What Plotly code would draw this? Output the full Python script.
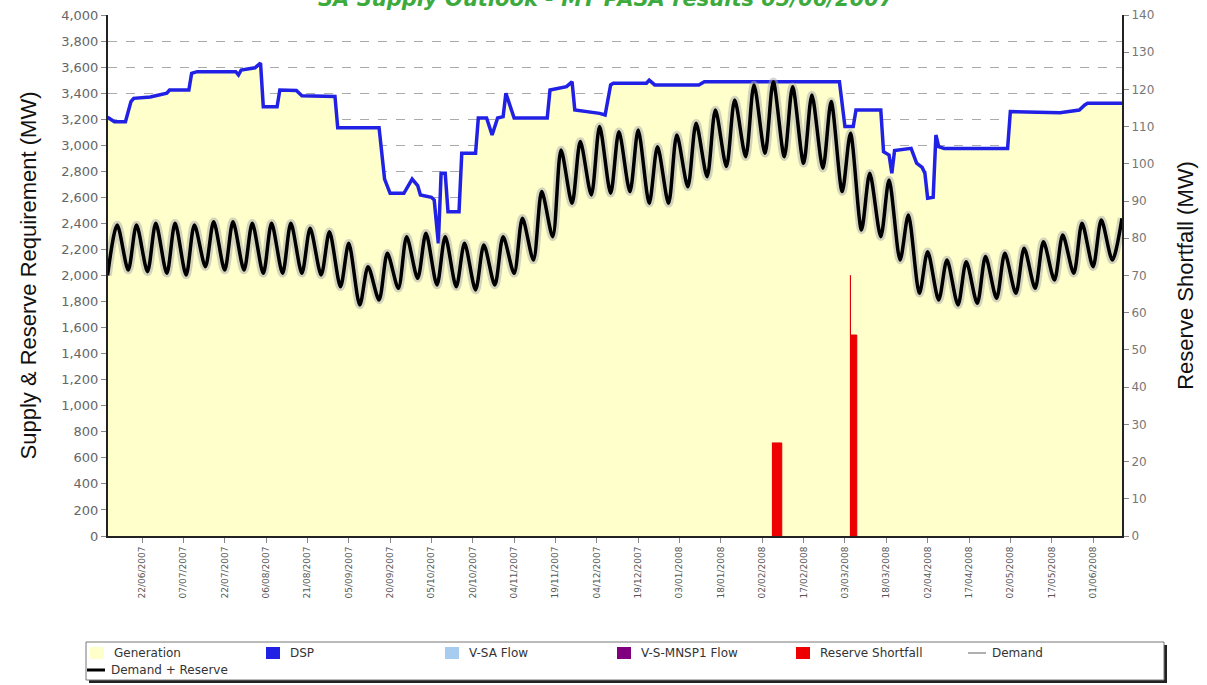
import pandas as pd
import plotly.graph_objects as go

# ---------------- data ----------------
# Top of supply (Generation + DSP), MW, left axis
supply_dates = [
    "2007-06-09 12:00", "2007-06-12", "2007-06-16", "2007-06-18", "2007-06-19", "2007-06-25",
    "2007-07-01", "2007-07-02", "2007-07-09", "2007-07-10", "2007-07-12", "2007-07-26",
    "2007-07-27", "2007-07-28", "2007-08-02", "2007-08-04", "2007-08-05", "2007-08-10",
    "2007-08-11", "2007-08-17", "2007-08-19", "2007-08-31", "2007-09-01", "2007-09-16",
    "2007-09-18", "2007-09-20", "2007-09-25", "2007-09-28", "2007-09-30", "2007-10-01",
    "2007-10-05", "2007-10-06", "2007-10-07 12:00", "2007-10-08 12:00", "2007-10-10", "2007-10-11",
    "2007-10-15", "2007-10-16", "2007-10-21", "2007-10-22", "2007-10-25", "2007-10-27",
    "2007-10-29", "2007-10-31", "2007-11-01", "2007-11-02", "2007-11-04", "2007-11-16",
    "2007-11-17", "2007-11-23", "2007-11-25", "2007-11-26", "2007-12-05", "2007-12-07",
    "2007-12-09", "2007-12-10", "2007-12-22", "2007-12-23", "2007-12-25", "2008-01-10",
    "2008-01-12", "2008-03-01", "2008-03-03", "2008-03-06", "2008-03-07", "2008-03-16",
    "2008-03-17", "2008-03-19", "2008-03-20", "2008-03-21", "2008-03-27", "2008-03-29",
    "2008-03-31", "2008-04-01", "2008-04-02", "2008-04-04", "2008-04-05", "2008-04-06",
    "2008-04-08", "2008-05-01", "2008-05-02", "2008-05-20", "2008-05-27", "2008-05-29",
    "2008-05-30", "2008-06-12",
]
supply_mw = [
    3215, 3180, 3180, 3335, 3360, 3370,
    3400, 3424, 3424, 3552, 3565, 3565,
    3540, 3578, 3595, 3630, 3296, 3296,
    3424, 3420, 3380, 3375, 3135, 3135,
    2740, 2631, 2631, 2740, 2690, 2618,
    2600, 2580, 2247, 2785, 2785, 2490,
    2490, 2938, 2938, 3209, 3209, 3079,
    3209, 3220, 3399, 3330, 3209, 3209,
    3424, 3450, 3488, 3271, 3245, 3232,
    3463, 3476, 3476, 3500, 3463, 3463,
    3488, 3488, 3143, 3143, 3271, 3271,
    2950, 2925, 2785, 2960, 2976, 2862,
    2830, 2785, 2593, 2600, 3079, 2989,
    2976, 2976, 3258, 3250, 3270, 3309,
    3322, 3322,
]

# Demand + Reserve: weekly weekday peaks (from Wed 13/06/2007) and weekend troughs, MW
first_peak = "2007-06-13"
peak_mw = [
    2388, 2388, 2401, 2401, 2388, 2413, 2413, 2401, 2401, 2401,
    2362, 2336, 2247, 2068, 2170, 2298, 2324, 2298, 2247, 2234,
    2298, 2439, 2644, 2964, 3028, 3143, 3104, 3117, 2989, 3079,
    3168, 3271, 3348, 3463, 3488, 3450, 3386, 3335, 3092, 2785,
    2733, 2465, 2183, 2119, 2106, 2145, 2170, 2209, 2260, 2311,
    2401, 2426,
]
trough_mw = [
    2042, 2029, 2017, 2004, 2068, 2042, 2042, 2017, 2017, 2017,
    2004, 1914, 1774, 1812, 1902, 1978, 1927, 1914, 1889, 1927,
    2017, 2119, 2298, 2554, 2618, 2631, 2644, 2554, 2554, 2682,
    2759, 2836, 2912, 2938, 2912, 2861, 2823, 2644, 2349, 2298,
    2119, 1863, 1812, 1774, 1786, 1825, 1863, 1902, 1965, 2017,
    2068, 2119,
]
series_start = ("2007-06-09 12:00", 2000)
series_end = ("2008-06-11 12:00", 2440)

# Reserve shortfall, MW, right axis (step series; None separates the two events)
shortfall_times = ["2008-02-05 12:00", "2008-02-09 02:00", None,
                   "2008-03-04 19:00", "2008-03-05 00:00", "2008-03-07 07:00"]
shortfall_mw = [25, 0, None, 70, 54, 0]

tick_dates = pd.date_range("2007-06-22", periods=24, freq="15D")
tick_labels = [d.strftime("%d/%m/%Y") for d in tick_dates]

legend_labels = ["Generation", "DSP", "V-SA Flow", "V-S-MNSP1 Flow",
                 "Reserve Shortfall", "Demand", "Demand + Reserve"]

# ---------------- build the Demand + Reserve curve points ----------------
peak_dates = pd.date_range(first_peak, periods=len(peak_mw), freq="7D")
dr_x, dr_y = [pd.Timestamp(series_start[0])], [series_start[1]]
for pdt, pv, tv in zip(peak_dates, peak_mw, trough_mw):
    dr_x += [pdt, pdt + pd.Timedelta(days=4)]
    dr_y += [pv, tv]
dr_x.append(pd.Timestamp(series_end[0]))
dr_y.append(series_end[1])

# split the shortfall series into its separate events
sf_segments, cur = [], ([], [])
for t, v in zip(shortfall_times, shortfall_mw):
    if t is None:
        sf_segments.append(cur)
        cur = ([], [])
    else:
        cur[0].append(t)
        cur[1].append(v)
sf_segments.append(cur)

# ---------------- colours / layout constants ----------------
YELLOW = "#FFFFCC"
BLUE = "#2121E6"
FONT = "DejaVu Sans"
PL, PR, PT, PB = 108, 1122, 15, 536
W, H = 1207, 685


def xp(px):
    return (px - PL) / (PR - PL)


def yp(py):
    return (PB - py) / (PB - PT)


fig = go.Figure()

fig.add_trace(go.Scatter(x=supply_dates, y=supply_mw, mode="lines", fill="tozeroy",
                         fillcolor=YELLOW, line=dict(width=0), name="Generation",
                         showlegend=False, hoverinfo="skip"))
fig.add_trace(go.Scatter(x=supply_dates, y=supply_mw, mode="lines",
                         line=dict(color=BLUE, width=3.5), name="DSP", showlegend=False))
fig.add_trace(go.Scatter(x=dr_x, y=dr_y, mode="lines",
                         line=dict(color="rgba(170,170,170,0.5)", width=8.5, shape="spline",
                                   smoothing=0.8),
                         name="Demand", showlegend=False))
fig.add_trace(go.Scatter(x=dr_x, y=dr_y, mode="lines",
                         line=dict(color="#000000", width=3.5, shape="spline", smoothing=0.8),
                         name="Demand + Reserve", showlegend=False))
for sx, sy in sf_segments:
    fig.add_trace(go.Scatter(x=sx, y=sy, mode="lines", yaxis="y2",
                             fill="tozeroy", fillcolor="#EE0000",
                             line=dict(color="#DD0000", width=1, shape="hv"),
                             name="Reserve Shortfall", showlegend=False))

# ---------------- custom legend ----------------
shapes = []
annotations = []
shapes.append(dict(type="rect", xref="paper", yref="paper", x0=xp(89), x1=xp(1167),
                   y0=yp(683), y1=yp(645), fillcolor="#222222", line=dict(width=0)))
shapes.append(dict(type="rect", xref="paper", yref="paper", x0=xp(86), x1=xp(1164),
                   y0=yp(680), y1=yp(642), fillcolor="#FFFFFF",
                   line=dict(color="#777777", width=1)))

row1, row2 = 653, 670
item_x = [90, 266, 445, 617, 796, 968, 87]
item_row = [row1, row1, row1, row1, row1, row1, row2]
item_kind = ["box", "box", "box", "box", "box", "line", "line"]
item_color = [YELLOW, BLUE, "#A6CDF0", "#800080", "#EE0000", "#B0B0B0", "#000000"]
item_lw = [0, 0, 0, 0, 0, 2, 3]
for lab, x0, ry, kind, col, lw in zip(legend_labels, item_x, item_row, item_kind,
                                      item_color, item_lw):
    if kind == "box":
        shapes.append(dict(type="rect", xref="paper", yref="paper", x0=xp(x0), x1=xp(x0 + 14),
                           y0=yp(ry + 6), y1=yp(ry - 6), fillcolor=col,
                           line=dict(color=col, width=0)))
    else:
        shapes.append(dict(type="line", xref="paper", yref="paper", x0=xp(x0), x1=xp(x0 + 18),
                           y0=yp(ry), y1=yp(ry), line=dict(color=col, width=lw)))
    annotations.append(dict(text=lab, xref="paper", yref="paper", x=xp(x0 + 22), y=yp(ry),
                            xanchor="left", yanchor="middle", showarrow=False,
                            font=dict(family=FONT, size=12, color="#333333")))

# title (top of it is cut off by the page edge, as in the reference)
annotations.append(dict(text="SA Supply Outlook - MT PASA results 05/06/2007",
                        xref="paper", yref="paper", x=xp(606), y=yp(-1),
                        xanchor="center", yanchor="middle", showarrow=False,
                        font=dict(family=FONT, size=21, color="#3DAA3D",
                                  weight="bold", style="italic")))

fig.update_layout(
    width=W, height=H,
    margin=dict(l=PL, r=W - PR, t=PT, b=H - PB, autoexpand=False),
    paper_bgcolor="#FFFFFF", plot_bgcolor="#FFFFFF",
    showlegend=False,
    shapes=shapes, annotations=annotations,
    xaxis=dict(
        type="date", range=["2007-06-09 16:00", "2008-06-11 12:00"],
        tickvals=list(tick_dates), ticktext=tick_labels, tickangle=-90,
        tickfont=dict(family=FONT, size=9, color="#555555"),
        ticks="outside", ticklen=5, tickcolor="#888888",
        showgrid=False, zeroline=False,
        showline=True, linecolor="#222222", linewidth=2,
    ),
    yaxis=dict(
        range=[0, 4000], dtick=200, tickformat=",d",
        tickfont=dict(family=FONT, size=13, color="#666666"),
        ticks="outside", ticklen=5, tickcolor="#888888",
        showgrid=True, gridcolor="#AAAAAA", gridwidth=1, griddash="dash",
        zeroline=False, showline=True, linecolor="#222222", linewidth=2,
        title=dict(text="Supply & Reserve Requirement (MW)",
                   font=dict(family="Liberation Sans", size=22, color="#111111"),
                   standoff=18),
    ),
    yaxis2=dict(
        range=[0, 140], dtick=10, overlaying="y", side="right",
        tickfont=dict(family=FONT, size=12, color="#777777"),
        ticks="outside", ticklen=5, tickcolor="#888888",
        showgrid=False, zeroline=False, showline=True, linecolor="#222222", linewidth=2,
        title=dict(text="Reserve Shortfall (MW)",
                   font=dict(family="Liberation Sans", size=22, color="#111111"),
                   standoff=24),
    ),
)

fig.write_html("out.html", config={"displayModeBar": False},
               post_script="document.body.style.margin='0px';")
